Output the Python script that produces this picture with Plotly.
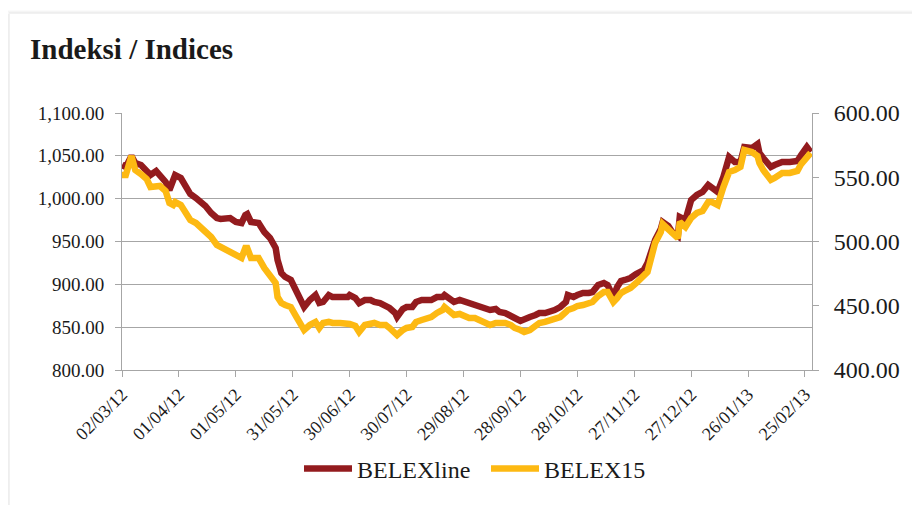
import pandas as pd
import plotly.graph_objects as go

start_date = "2012-03-02"

day_offsets = [0, 2, 5, 7, 10, 13, 15, 18, 20, 23, 25, 27, 28, 31, 34, 36, 39, 42, 44, 47,
               50, 52, 55, 57, 60, 63, 65, 66, 68, 72, 75, 78, 81, 82, 84, 86, 89, 92, 94, 96,
               99, 102, 104, 106, 109, 111, 115, 119, 120, 123, 125, 128, 131, 133, 136, 139, 141, 144, 145, 148,
               150, 153, 155, 158, 161, 163, 166, 169, 170, 173, 175, 178, 181, 183, 186, 189, 191, 194, 197, 199,
               202, 205, 207, 210, 212, 215, 218, 220, 223, 226, 228, 231, 234, 235, 238, 240, 243, 246, 248, 251,
               254, 256, 259, 261, 263, 265, 268, 271, 275, 277, 281, 284, 285, 288, 290, 293, 294, 297, 300, 303,
               306, 309, 311, 314, 317, 320, 323, 326, 328, 332, 335, 336, 338, 340, 342, 344, 348, 352, 356, 358,
               361, 363]

belexline = [1039.3, 1037.0, 1049.8, 1041.6, 1039.3, 1033.5, 1027.6, 1032.3, 1027.6, 1019.5,
             1010.1, 1021.8, 1027.6, 1024.1, 1013.6, 1005.4, 1000.8, 996.1, 991.4, 983.3,
             977.4, 976.3, 976.3, 977.4, 972.8, 971.6, 980.9, 982.1, 972.8, 971.6,
             961.1, 954.1, 942.4, 928.4, 913.2, 908.6, 905.1, 889.9, 881.7, 873.5,
             881.7, 887.5, 878.2, 879.4, 887.5, 885.2, 885.2, 885.2, 887.5, 884.0,
             878.2, 881.7, 881.7, 879.4, 878.2, 875.9, 872.4, 866.5, 861.9, 871.2,
             873.5, 873.5, 879.4, 881.7, 881.7, 881.7, 885.2, 885.2, 887.5, 881.7,
             879.4, 881.7, 879.4, 878.2, 875.9, 873.5, 872.4, 870.0, 871.2, 867.7,
             866.5, 864.2, 860.7, 857.2, 858.4, 861.9, 864.2, 866.5, 866.5, 867.7,
             870.0, 873.5, 879.4, 887.5, 885.2, 887.5, 889.9, 889.9, 891.0, 899.2,
             901.6, 899.2, 885.2, 896.9, 903.9, 905.1, 907.4, 912.1, 916.7, 924.9,
             951.7, 964.6, 972.8, 968.1, 961.1, 956.4, 978.6, 975.1, 998.4, 1004.3,
             1007.8, 1016.0, 1012.4, 1007.8, 1025.3, 1048.6, 1042.8, 1042.8, 1060.3, 1059.1,
             1063.8, 1053.3, 1047.5, 1042.8, 1037.0, 1039.3, 1042.8, 1042.8, 1044.0, 1051.0,
             1060.3, 1054.5]

belex15 = [551.7, 551.7, 566.5, 555.6, 552.5, 548.6, 542.4, 543.2, 543.2, 539.3,
           530.0, 528.4, 530.7, 528.4, 520.6, 516.7, 514.4, 510.5, 507.4, 503.5,
           497.3, 495.7, 494.2, 492.6, 489.5, 487.2, 494.9, 494.9, 487.2, 487.2,
           479.4, 472.4, 467.7, 456.8, 452.1, 450.6, 449.0, 441.2, 436.6, 431.1,
           435.0, 437.4, 432.7, 436.6, 437.4, 436.6, 436.6, 436.6, 435.8, 434.2,
           429.6, 435.0, 436.6, 436.6, 435.0, 435.0, 432.7, 429.6, 427.2, 431.1,
           432.7, 433.5, 437.4, 438.9, 440.5, 441.2, 444.4, 446.7, 449.0, 444.4,
           442.8, 443.6, 441.2, 440.5, 440.5, 438.9, 437.4, 435.0, 436.6, 436.6,
           436.6, 435.0, 432.7, 431.1, 429.6, 431.1, 435.0, 436.6, 437.4, 438.9,
           438.9, 441.2, 445.1, 446.7, 448.2, 449.8, 450.6, 452.1, 452.9, 457.6,
           460.7, 460.7, 452.9, 456.0, 459.9, 461.5, 463.8, 467.7, 473.9, 476.3,
           498.8, 507.4, 513.6, 509.7, 505.8, 502.7, 515.2, 511.3, 518.3, 522.2,
           523.7, 530.7, 530.7, 528.4, 542.4, 554.1, 555.6, 558.0, 571.2, 569.6,
           566.5, 561.1, 555.6, 551.0, 547.9, 549.4, 553.3, 553.3, 554.9, 560.3,
           566.5, 568.9]

tick_dates = ["2012-03-02", "2012-04-01", "2012-05-01", "2012-05-31", "2012-06-30", "2012-07-30",
              "2012-08-29", "2012-09-28", "2012-10-28", "2012-11-27", "2012-12-27", "2013-01-26",
              "2013-02-25"]
tick_labels = ["02/03/12", "01/04/12", "01/05/12", "31/05/12", "30/06/12", "30/07/12",
               "29/08/12", "28/09/12", "28/10/12", "27/11/12", "27/12/12", "26/01/13", "25/02/13"]

left_ticks = [800, 850, 900, 950, 1000, 1050, 1100]
right_ticks = [400, 450, 500, 550, 600]

dates = pd.Timestamp(start_date) + pd.to_timedelta(day_offsets, unit="D")

RED = "#931B1E"
YELLOW = "#FDB912"
AX = "#a6a6a6"
FONT = "Liberation Serif, DejaVu Serif, serif"
TXT = "#1a1a1a"

# page has an 8px body margin; figure sized so that page coords match the reference
W, H = 904, 497
OFF = 8

fig = go.Figure()
fig.add_trace(go.Scatter(x=dates, y=belexline, name="BELEXline", mode="lines",
                         line=dict(color=RED, width=6.5), yaxis="y"))
fig.add_trace(go.Scatter(x=dates, y=belex15, name="BELEX15", mode="lines",
                         line=dict(color=YELLOW, width=6.5), yaxis="y2"))


def px_x(p):
    return (p - 122) / 690.0


def px_y(p):
    return (370 - p) / 257.0


shapes = []
for off, col in [(3, "#f7f7f7"), (2, "#efefef"), (1, "#e4e4e4")]:
    shapes.append(dict(type="line", xref="paper", yref="paper",
                       x0=px_x(10 - off), x1=px_x(10 - off), y0=px_y(14 - off + 1), y1=px_y(520),
                       line=dict(color=col, width=1)))
    shapes.append(dict(type="line", xref="paper", yref="paper",
                       x0=px_x(10 - off), x1=px_x(930), y0=px_y(14 - off), y1=px_y(14 - off),
                       line=dict(color=col, width=1)))

fig.update_layout(
    width=W, height=H,
    paper_bgcolor="white", plot_bgcolor="white",
    margin=dict(l=122 - OFF, r=W - (812 - OFF), t=113 - OFF, b=H - (370 - OFF)),
    font=dict(family=FONT, color=TXT),
    title=dict(text="<b>Indeksi / Indices</b>", x=(30 - OFF) / W, xanchor="left",
               y=1 - (49 - OFF) / H, yanchor="middle", font=dict(size=29, family=FONT, color=TXT)),
    showlegend=True,
    legend=dict(orientation="h", x=0.5 + 19 / 690, xanchor="center", y=px_y(469), yanchor="middle",
                font=dict(size=24, family=FONT, color=TXT), itemwidth=48,
                entrywidth=124, entrywidthmode="pixels",
                bgcolor="rgba(0,0,0,0)", tracegroupgap=0),
    xaxis=dict(type="date", range=["2012-03-02", "2013-02-28 17:00"],
               tickvals=tick_dates, ticktext=tick_labels, tickangle=-45,
               ticks="outside", ticklen=6, tickcolor=AX, showline=True, linecolor=AX,
               linewidth=1, showgrid=False, zeroline=False,
               tickfont=dict(size=18, family=FONT, color=TXT)),
    yaxis=dict(range=[800, 1100], tickvals=left_ticks, tickformat=",.2f",
               ticks="outside", ticklen=6, tickcolor=AX, showline=True, linecolor=AX,
               linewidth=1, showgrid=True, gridcolor=AX, gridwidth=1, zeroline=False,
               ticklabelstandoff=7,
               tickfont=dict(size=19, family=FONT, color=TXT)),
    yaxis2=dict(range=[400, 600], tickvals=right_ticks, tickformat=",.2f",
                overlaying="y", side="right",
                ticks="outside", ticklen=6, tickcolor=AX, showline=True, linecolor=AX,
                linewidth=1, showgrid=False, zeroline=False,
                ticklabelstandoff=10,
                tickfont=dict(size=24, family=FONT, color=TXT)),
    shapes=shapes,
)

fig.write_html("out.html")
